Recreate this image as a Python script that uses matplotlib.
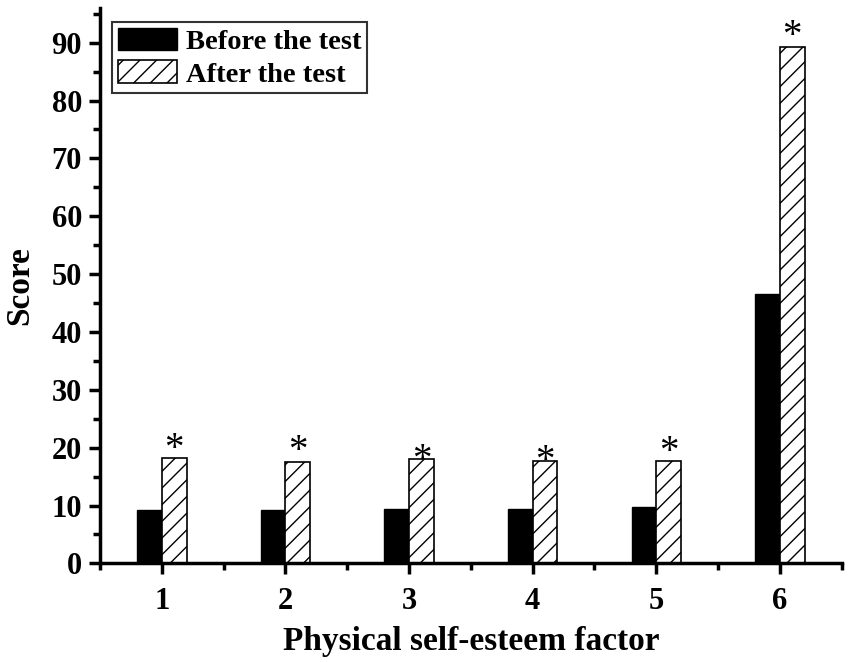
import matplotlib
matplotlib.use("Agg")
import matplotlib.pyplot as plt
from matplotlib.ticker import MultipleLocator
import numpy as np

# values
factors = [1, 2, 3, 4, 5, 6]
before = [9.3, 9.2, 9.4, 9.4, 9.7, 46.5]
after = [18.2, 17.5, 18.05, 17.7, 17.65, 89.2]
star_y = [20.5, 20.1, 18.6, 18.3, 20.0, 91.9]

plt.rcParams['font.family'] = ['Liberation Serif', 'DejaVu Serif']
plt.rcParams['font.weight'] = 'bold'
plt.rcParams['hatch.linewidth'] = 1.0

fig = plt.figure(figsize=(8.51, 6.62), dpi=100)
ax = fig.add_axes([0.1175, 0.149, 0.8715, 0.839])

x = np.array(factors)
w = 0.2
ax.bar(x - w / 2, before, w, color='black', edgecolor='black', linewidth=1,
       label='Before the test')
ax.bar(x + w / 2, after, w, color='white', edgecolor='black', linewidth=1.2,
       hatch='//', label='After the test')

for xi, sy in zip(x, star_y):
    ax.text(xi + w / 2, sy, '*', ha='center', va='center_baseline',
            fontsize=28, fontweight='normal')

ax.set_xlim(0.5, 6.5)
ax.set_ylim(0, 96)
ax.set_xticks(factors)
ax.xaxis.set_minor_locator(MultipleLocator(0.5))
ax.yaxis.set_major_locator(MultipleLocator(10))
ax.yaxis.set_minor_locator(MultipleLocator(5))

for side in ['top', 'right']:
    ax.spines[side].set_visible(False)
for side in ['left', 'bottom']:
    ax.spines[side].set_linewidth(2.5)

ax.tick_params(which='major', direction='out', length=8, width=2.5,
               labelsize=22, pad=5)
ax.tick_params(axis='x', which='major', pad=9)
ax.tick_params(which='minor', direction='out', length=5, width=2.5)
for lab in ax.get_xticklabels() + ax.get_yticklabels():
    lab.set_fontweight('bold')

ax.set_xlabel('Physical self-esteem factor', fontsize=24, fontweight='bold',
              labelpad=7)
ax.set_ylabel('Score', fontsize=24, fontweight='bold', labelpad=12)

leg = ax.legend(loc='upper left', bbox_to_anchor=(0.016, 0.975), fontsize=20.5,
                frameon=True, fancybox=False, handlelength=2.1,
                handleheight=0.85, borderpad=0.2, labelspacing=0.2,
                handletextpad=0.3, borderaxespad=0)
leg.get_frame().set_edgecolor('black')
leg.get_frame().set_linewidth(1.5)
for t in leg.get_texts():
    t.set_fontweight('bold')

fig.savefig('out.png', dpi=100)
